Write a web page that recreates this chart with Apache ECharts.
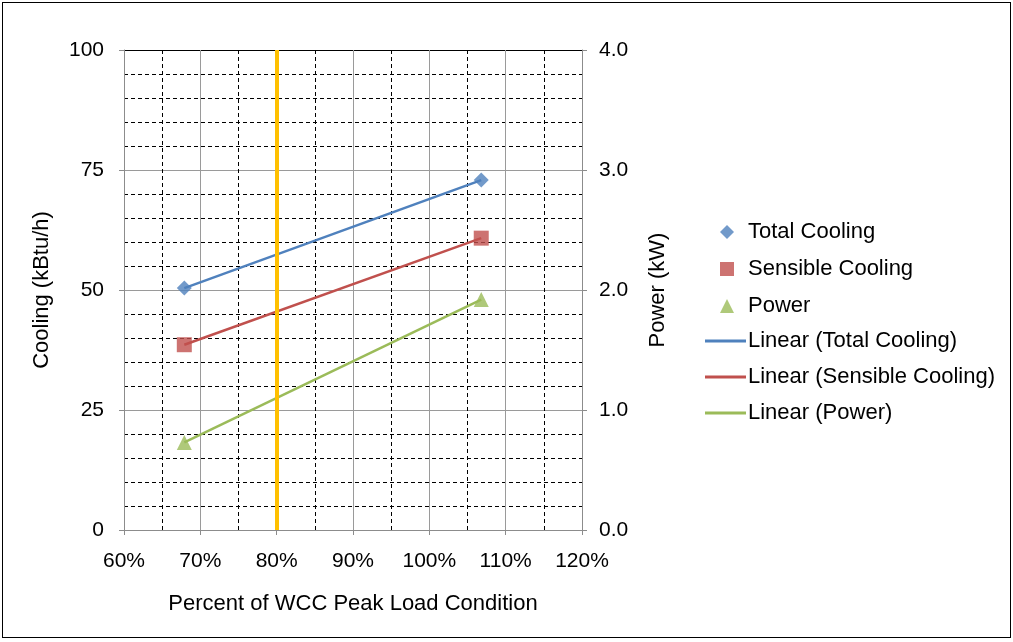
<!DOCTYPE html>
<html><head><meta charset="utf-8">
<script src="https://cdn.jsdelivr.net/npm/echarts@6/dist/echarts.min.js"></script>
<style>
html,body{margin:0;padding:0;background:#fff;}
#frame{position:absolute;left:2px;top:2px;width:1007px;height:634px;border:1px solid #000;}
#c{position:absolute;left:0;top:0;width:1013px;height:642px;}
</style></head>
<body><div id="frame"></div><div id="c"></div>
<script>
const loadPct = [67.9, 106.8];
const totalCooling = [50.4, 72.9];
const sensibleCooling = [38.6, 60.8];
const power = [0.73, 1.92];
const xTicks = [60, 70, 80, 90, 100, 110, 120];
const markerLine = 80;
const names = ['Total Cooling','Sensible Cooling','Power','Linear (Total Cooling)','Linear (Sensible Cooling)','Linear (Power)'];

const pair = (xs, ys) => xs.map((x,i)=>[x, ys[i]]);
const font = 'Liberation Sans, Arial, sans-serif';
const FS = 21, FN = 22;
const chart = echarts.init(document.getElementById('c'));
chart.setOption({
  animation:false,
  textStyle:{fontFamily:font},
  grid:{left:124,right:431,top:50,bottom:112},
  legend:[{
    orient:'vertical', left:715, top:216, itemWidth:14, itemHeight:14, itemGap:15,
    textStyle:{fontSize:FN,color:'#000',fontFamily:font,padding:[0,0,0,9]},
    data:[
      {name:names[0],icon:'diamond'},
      {name:names[1],icon:'rect'},
      {name:names[2],icon:'triangle'}
    ]
  },{
    orient:'vertical', left:700, top:325, itemWidth:41, itemHeight:3, itemGap:14,
    textStyle:{fontSize:FN,color:'#000',fontFamily:font,padding:[0,0,0,-3]},
    data:[
      {name:names[3],icon:'rect'},{name:names[4],icon:'rect'},{name:names[5],icon:'rect'}
    ]
  }],
  xAxis:{
    type:'value', min:xTicks[0], max:xTicks[xTicks.length-1], interval:10,
    name:'Percent of WCC Peak Load Condition', nameLocation:'middle', nameGap:63,
    nameTextStyle:{fontSize:FN,color:'#000'},
    axisLine:{show:true,lineStyle:{color:'#8c8c8c',width:1}},
    axisTick:{show:true,length:5,lineStyle:{color:'#8c8c8c'}},
    axisLabel:{fontSize:FS,color:'#000',margin:21,formatter:'{value}%'},
    splitLine:{show:true,lineStyle:{color:'#9a9a9a',width:1}},
    minorTick:{show:false,splitNumber:2},
    minorSplitLine:{show:true,lineStyle:{color:'#000',width:1,type:[4,3]}}
  },
  yAxis:[{
    type:'value', min:0, max:100, interval:25, position:'left',
    name:'Cooling (kBtu/h)', nameLocation:'middle', nameGap:71,
    nameTextStyle:{fontSize:FN,color:'#000'},
    axisLine:{show:true,lineStyle:{color:'#8c8c8c',width:1}},
    axisTick:{show:true,length:5,lineStyle:{color:'#8c8c8c'}},
    axisLabel:{fontSize:FS,color:'#000',margin:20},
    splitLine:{show:true,lineStyle:{color:['#9a9a9a','#9a9a9a','#9a9a9a','#9a9a9a','#000'],width:1}},
    minorTick:{show:false,splitNumber:5},
    minorSplitLine:{show:true,lineStyle:{color:'#000',width:1,type:[4,3]}}
  },{
    type:'value', min:0, max:4, interval:1, position:'right',
    name:'Power (kW)', nameLocation:'middle', nameGap:65,
    nameTextStyle:{fontSize:FN,color:'#000'},
    axisLine:{show:true,lineStyle:{color:'#8c8c8c',width:1}},
    axisTick:{show:true,length:5,lineStyle:{color:'#8c8c8c'}},
    axisLabel:{fontSize:FS,color:'#000',margin:17,formatter:v=>v.toFixed(1)},
    splitLine:{show:false}
  }],
  series:[
    {name:names[3],type:'line',symbol:'none',data:pair(loadPct,totalCooling),lineStyle:{color:'#4F81BD',width:2.5},itemStyle:{color:'#4F81BD'},z:3,
     markLine:{silent:true,symbol:'none',label:{show:false},lineStyle:{color:'#FFC000',width:4,type:'solid'},data:[{xAxis:markerLine}]}},
    {name:names[4],type:'line',symbol:'none',data:pair(loadPct,sensibleCooling),lineStyle:{color:'#C0504D',width:2.5},itemStyle:{color:'#C0504D'},z:3},
    {name:names[5],type:'line',symbol:'none',yAxisIndex:1,data:pair(loadPct,power),lineStyle:{color:'#9BBB59',width:2.5},itemStyle:{color:'#9BBB59'},z:3},
    {name:names[0],type:'scatter',symbol:'diamond',symbolSize:15,data:pair(loadPct,totalCooling),itemStyle:{color:'#4F81BD'},z:4},
    {name:names[1],type:'scatter',symbol:'rect',symbolSize:15,data:pair(loadPct,sensibleCooling),itemStyle:{color:'#C0504D'},z:4},
    {name:names[2],type:'scatter',symbol:'triangle',symbolSize:15,yAxisIndex:1,data:pair(loadPct,power),itemStyle:{color:'#9BBB59'},z:4}
  ]
});
</script></body></html>
